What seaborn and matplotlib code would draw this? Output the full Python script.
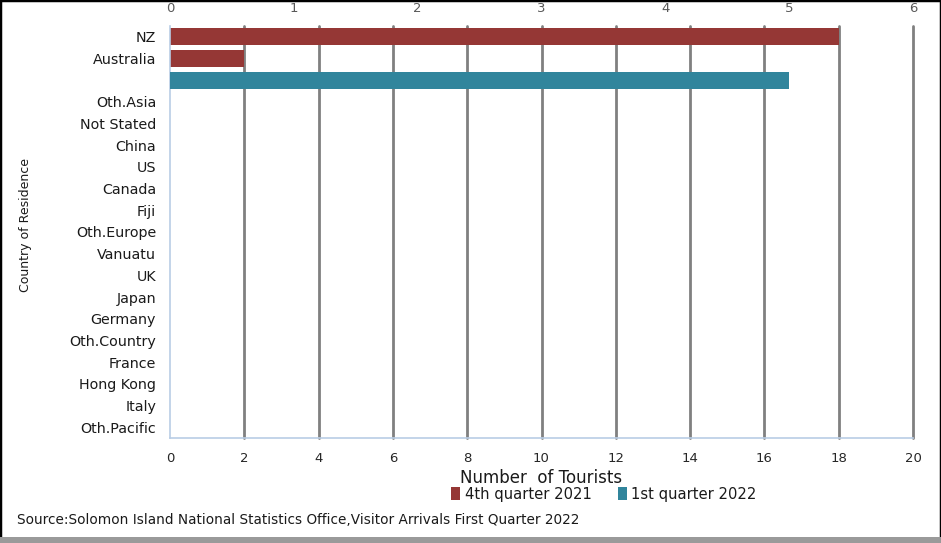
import numpy as np
import pandas as pd
import matplotlib
matplotlib.use('Agg')
import matplotlib.pyplot as plt
from matplotlib.patches import Patch, Rectangle
import seaborn as sns

sns.set_theme(style='white')
plt.rcParams['font.family'] = ['DejaVu Sans']

# country of residence, top to bottom (third row has no label in the source)
countries = ['NZ', 'Australia', '', 'Oth.Asia', 'Not Stated', 'China', 'US',
             'Canada', 'Fiji', 'Oth.Europe', 'Vanuatu', 'UK', 'Japan',
             'Germany', 'Oth.Country', 'France', 'Hong Kong', 'Italy',
             'Oth.Pacific']
# 4th quarter 2021 (primary / bottom axis)
q4_2021 = [18, 2, 0, 0, 0, 0, 0, 0, 0, 0, 0, 0, 0, 0, 0, 0, 0, 0, 0]
# 1st quarter 2022 (secondary / top axis)
q1_2022 = [0, 0, 5, 0, 0, 0, 0, 0, 0, 0, 0, 0, 0, 0, 0, 0, 0, 0, 0]

bottom_ticks = list(range(0, 21, 2))
top_ticks = list(range(0, 7))

red = '#953735'
teal = '#31859C'
grid_col = '#808080'
spine_col = '#B9CDE5'

df = pd.DataFrame({'country': countries, 'q4': q4_2021, 'q1': q1_2022})

fig = plt.figure(figsize=(9.41, 5.43), dpi=100)
ax = fig.add_axes([170 / 941, 1 - 438 / 543, (913 - 170) / 941, (438 - 26) / 543])

sns.barplot(data=df, x='q4', y='country', ax=ax, color=red, orient='h',
            width=0.78, saturation=1, order=countries, linewidth=0, edgecolor='none')
ax.set_xlim(0, 20)
ax.set_xticks(bottom_ticks)
ax.set_axisbelow(True)
ax.grid(axis='x', color=grid_col, linewidth=2.0)
ax.grid(axis='y', visible=False)
for gl in ax.get_xgridlines():
    gl.set_clip_on(False)
ax.get_xgridlines()[0].set_visible(False)

ax2 = ax.twiny()
sns.barplot(data=df, x='q1', y='country', ax=ax2, color=teal, orient='h',
            width=0.78, saturation=1, order=countries, linewidth=0, edgecolor='none')
ax2.set_xlim(0, 6)
ax2.set_xticks(top_ticks)
ax2.grid(False)

ax.set_ylim(len(countries) - 0.5, -0.5)

for a in (ax, ax2):
    for s in ('top', 'right'):
        a.spines[s].set_visible(False)
    a.spines['left'].set_color(spine_col)
    a.spines['bottom'].set_color(spine_col)
    a.spines['left'].set_linewidth(1.2)
    a.spines['bottom'].set_linewidth(1.2)
ax2.spines['bottom'].set_visible(False)
ax2.spines['left'].set_visible(False)

ax.tick_params(axis='x', length=0, pad=10, labelsize=9.5, labelcolor='#262626')
ax.tick_params(axis='y', length=0, pad=10, labelsize=10.3, labelcolor='#1a1a1a')
ax2.tick_params(axis='x', length=0, pad=8, labelsize=9.5, labelcolor='#595959')
ax2.set_xlabel('')
ax.set_xlabel('')
ax2.set_ylabel('')
ax.set_ylabel('')

fig.text(541 / 941, 1 - 478 / 543, 'Number  of Tourists', ha='center', va='center',
         fontsize=12, color='#1a1a1a')
fig.text(26 / 941, 1 - 225 / 543, 'Country of Residence', ha='center', va='center',
         rotation=90, fontsize=9, color='#1a1a1a')
fig.text(17 / 941, 1 - 520 / 543,
         'Source:Solomon Island National Statistics Office,Visitor Arrivals First Quarter 2022',
         ha='left', va='center', fontsize=9.8, color='#1a1a1a')

handles = [Patch(facecolor=red, edgecolor='none', label='4th quarter 2021'),
           Patch(facecolor=teal, edgecolor='none', label='1st quarter 2022')]
fig.legend(handles=handles, loc='center', bbox_to_anchor=(604 / 941, 1 - 494 / 543),
           ncol=2, frameon=False, fontsize=10.6, handlelength=0.6, handleheight=0.9,
           handletextpad=0.3, columnspacing=1.8, labelcolor='#1a1a1a')

# outer frame of the picture
fig.patches.append(Rectangle((0, 0), 1, 1, transform=fig.transFigure, fill=False,
                             edgecolor='black', linewidth=2.5))
fig.patches.append(Rectangle((0, 0), 1, 6 / 543, transform=fig.transFigure,
                             facecolor='#9a9a9a', edgecolor='none'))

fig.savefig('out.png', dpi=100)
